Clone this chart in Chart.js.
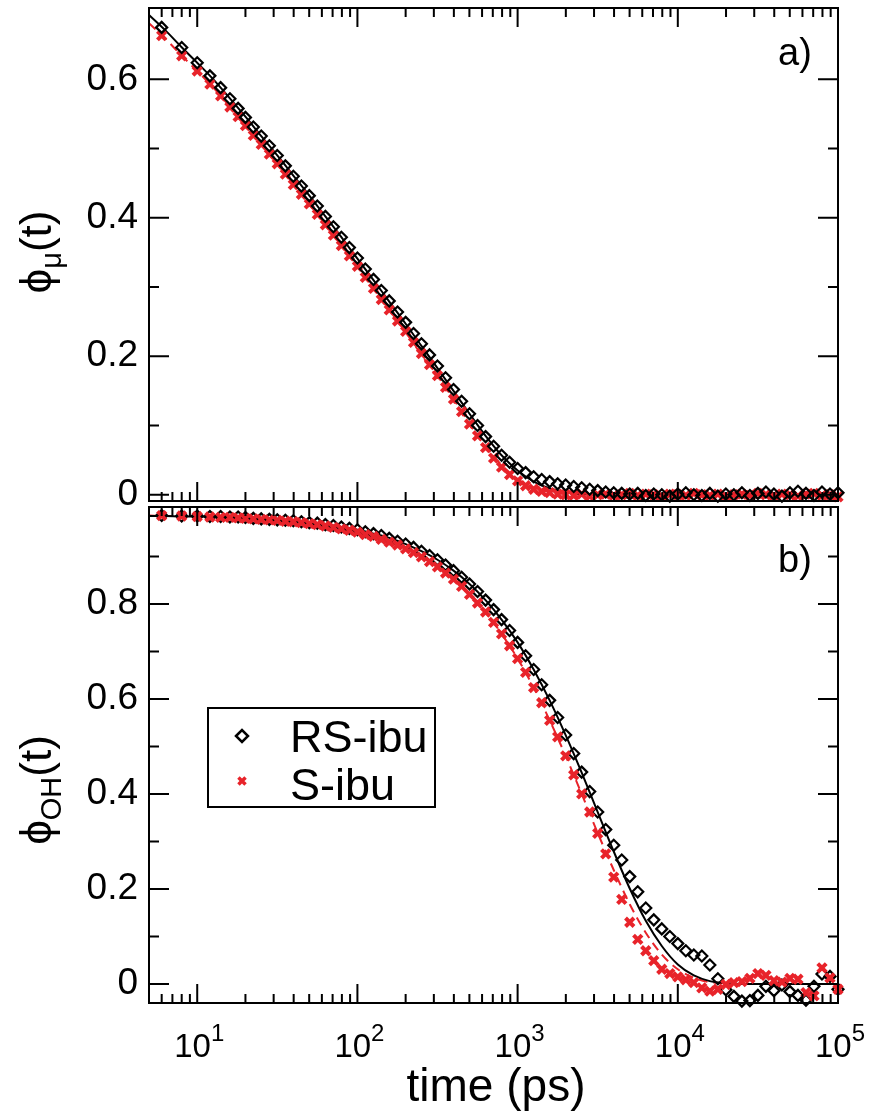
<!DOCTYPE html>
<html>
<head>
<meta charset="utf-8">
<script src="https://cdn.jsdelivr.net/npm/chart.js@4.4.1/dist/chart.umd.min.js"></script>
<style>
  html, body { margin: 0; padding: 0; background: #fff; }
  body { width: 869px; height: 1113px; position: relative; overflow: hidden; }
  .panel { position: absolute; left: 0; width: 869px; }
  #wrapA { top: -40px; height: 600px; }
  #wrapB { top: 460px; height: 653px; }
</style>
</head>
<body>
<div class="panel" id="wrapA"><canvas id="chartA"></canvas></div>
<div class="panel" id="wrapB"><canvas id="chartB"></canvas></div>
<script>
// sampling times of the simulation points (ps)
var times = [6,8,10,12,14,16,18,20,22.4,25.1,28.2,31.6,35.5,39.8,44.7,50.1,56.2,63.1,70.8,79.4,89.1,
  100,112,126,141,158,178,200,224,251,282,316,355,398,447,501,562,631,708,794,891,
  1000,1122,1259,1413,1585,1778,1995,2239,2512,2818,3162,3548,3981,4467,5012,5623,6310,7079,7943,8913,
  10000,11220,12589,14125,15849,17783,19953,22387,25119,28184,31623,35481,39811,44668,50119,56234,63096,70795,79433,89125,
  100000];

// panel a) phi_mu(t)
var muRS = [0.675,0.646,0.624,0.605,0.588,0.572,0.558,0.545,
  0.531,0.518,0.504,0.490,0.475,0.460,0.446,0.432,0.417,0.402,0.387,0.372,0.357,
  0.342,0.326,0.311,0.295,0.280,0.264,0.249,0.233,0.218,0.202,0.186,0.169,0.152,0.135,0.117,0.100,0.084,0.070,0.057,0.047,
  0.038,0.032,0.026,0.022,0.019,0.016,0.014,0.012,0.010,0.008,0.006,0.004,0.003,0.002,0.001,0.002,-0.001,0.001,0.000,-0.002,
  0.001,0.003,0.000,-0.001,0.002,-0.002,0.001,0.000,0.003,-0.001,0.002,0.004,0.001,-0.002,0.003,0.005,0.002,-0.001,0.004,0.001,
  0.003];
var muS = [0.663,0.634,0.612,0.593,0.576,0.560,0.546,0.533,
  0.519,0.506,0.492,0.478,0.463,0.448,0.434,0.420,0.405,0.390,0.375,0.360,0.345,
  0.330,0.314,0.298,0.282,0.267,0.251,0.236,0.220,0.204,0.188,0.172,0.155,0.138,0.120,0.102,0.085,0.068,0.053,0.040,0.029,
  0.020,0.013,0.008,0.005,0.003,0.001,0.000,-0.001,0.001,-0.002,0.000,0.001,-0.001,0.000,0.002,-0.001,0.001,0.000,-0.002,0.001,
  0.000,-0.001,0.002,0.000,-0.001,0.001,-0.002,0.000,0.001,-0.001,0.002,0.000,-0.001,0.001,0.000,-0.002,0.001,0.002,-0.001,0.000,
  -0.003];

// panel b) phi_OH(t)
var ohRS = [0.986,0.985,0.985,0.984,0.984,0.983,0.983,0.982,
  0.980,0.979,0.978,0.977,0.976,0.975,0.973,0.971,0.970,0.967,0.965,0.962,0.959,
  0.956,0.952,0.948,0.944,0.938,0.932,0.926,0.919,0.911,0.902,0.893,0.882,0.870,0.856,0.842,0.826,0.808,0.788,0.767,0.744,
  0.719,0.691,0.662,0.630,0.597,0.561,0.524,0.485,0.446,0.405,0.362,0.325,0.292,0.261,0.226,0.194,0.160,0.135,0.116,0.100,
  0.085,0.070,0.061,0.059,0.040,0.011,-0.012,-0.026,-0.036,-0.035,-0.024,-0.005,-0.014,-0.002,-0.016,-0.024,-0.034,-0.005,0.021,0.016,
  -0.011];
var ohS = [0.986,0.985,0.984,0.983,0.982,0.982,0.981,0.980,
  0.979,0.978,0.977,0.976,0.974,0.973,0.971,0.969,0.967,0.964,0.961,0.958,0.955,
  0.951,0.946,0.942,0.936,0.930,0.924,0.916,0.908,0.899,0.889,0.878,0.865,0.852,0.837,0.820,0.802,0.783,0.761,0.737,0.712,
  0.685,0.656,0.624,0.592,0.555,0.520,0.480,0.440,0.400,0.362,0.317,0.274,0.225,0.178,0.130,0.094,0.070,0.049,0.031,0.022,
  0.015,0.009,0.003,-0.008,-0.015,-0.011,-0.001,0.003,0.005,0.012,0.022,0.018,0.007,0.004,0.012,0.010,-0.018,-0.025,0.034,0.013,
  -0.011];

// fitted curves
var fitTimes = [5,6.31,7.94,10,12.6,15.8,20,25.1,31.6,39.8,50.1,63.1,79.4,100,126,158,200,251,316,398,
  501,631,794,1000,1259,1585,1995,2512,3162,3981,5012,6310,7943,10000,12589,15849,19953,25119,31623,39811,
  50119,63096,79433,100000];
var muFitRS = [0.693,0.671,0.647,0.624,0.600,0.574,0.546,0.518,0.490,0.461,
  0.432,0.402,0.372,0.341,0.310,0.279,0.247,0.215,0.183,0.150,
  0.117,0.085,0.057,0.035,0.019,0.009,0.004,0.001,0,0,
  0,0,0,0,0,0,0,0,0,0,0,0,0,0];
var muFitS = [0.681,0.659,0.635,0.612,0.588,0.562,0.534,0.506,0.478,0.449,
  0.420,0.390,0.360,0.329,0.298,0.267,0.235,0.202,0.169,0.135,
  0.101,0.070,0.043,0.023,0.010,0.004,0.001,0,0,0,
  0,0,0,0,0,0,0,0,0,0,0,0,0,0];
var ohFitRS = [0.985,0.985,0.984,0.984,0.983,0.982,0.981,0.979,0.977,0.975,
  0.971,0.967,0.962,0.956,0.948,0.939,0.926,0.911,0.893,0.870,
  0.842,0.808,0.767,0.719,0.662,0.597,0.524,0.445,0.362,0.279,
  0.201,0.133,0.080,0.041,0.018,0.006,0.002,0,0,0,0,0,0,0];
var ohFitS = [0.986,0.985,0.985,0.984,0.983,0.981,0.980,0.978,0.976,0.973,
  0.969,0.964,0.958,0.951,0.942,0.930,0.916,0.899,0.878,0.852,
  0.820,0.783,0.737,0.685,0.624,0.555,0.480,0.400,0.318,0.240,
  0.168,0.108,0.062,0.031,0.013,0.004,0.001,0,0,0,0,0,0,0];

var seriesNames = ['RS-ibu', 'S-ibu'];
var xTickValues = [10, 100, 1000, 10000, 100000];
var xTickExps = ['1', '2', '3', '4', '5'];
var yTicksA = [0, 0.2, 0.4, 0.6];
var yMinorA = [0.1, 0.3, 0.5];
var yTicksB = [0, 0.2, 0.4, 0.6, 0.8];
var yMinorB = [0.1, 0.3, 0.5, 0.7, 0.9];

var RED = '#e8232a';
var FONT = '"Liberation Sans", Arial, Helvetica, sans-serif';
Chart.defaults.font.family = FONT;
Chart.defaults.color = '#000';

function pts(xs, ys) {
  return xs.map(function(x, i) { return { x: x, y: ys[i] }; });
}
function font(size) { return size + 'px ' + FONT; }

// draw text pieces in a row, with sub/superscripts; (cx, cy) = centre of baseline
function drawRich(ctx, parts, cx, cy, rotated) {
  ctx.save();
  ctx.translate(cx, cy);
  if (rotated) ctx.rotate(-Math.PI / 2);
  var w = 0;
  parts.forEach(function(p) { ctx.font = font(p.s); p.w = ctx.measureText(p.t).width; w += p.w; });
  var x = -w / 2;
  ctx.textAlign = 'left';
  ctx.textBaseline = 'alphabetic';
  ctx.fillStyle = '#000';
  parts.forEach(function(p) { ctx.font = font(p.s); ctx.fillText(p.t, x, p.dy || 0); x += p.w; });
  ctx.restore();
}

var panelDeco = {
  id: 'panelDeco',
  afterDraw: function(chart, args, o) {
    var ctx = chart.ctx, a = chart.chartArea;
    var xs = chart.scales.x, ys = chart.scales.y;
    var off = o.offsetTop;
    ctx.save();
    ctx.strokeStyle = '#000';
    ctx.lineWidth = 2;
    ctx.strokeRect(a.left, a.top, a.right - a.left, a.bottom - a.top);
    ctx.beginPath();
    for (var e = 0; e <= 5; e++) {
      for (var m = 1; m <= 9; m++) {
        var v = m * Math.pow(10, e);
        if (v < xs.min || v > xs.max) continue;
        var px = xs.getPixelForValue(v);
        var len = m === 1 ? 19 : 9;
        ctx.moveTo(px, a.top); ctx.lineTo(px, a.top + len);
        ctx.moveTo(px, a.bottom); ctx.lineTo(px, a.bottom - len);
      }
    }
    function yt(list, len) {
      list.forEach(function(v) {
        var py = ys.getPixelForValue(v);
        ctx.moveTo(a.left, py); ctx.lineTo(a.left + len, py);
        ctx.moveTo(a.right, py); ctx.lineTo(a.right - len, py);
      });
    }
    yt(o.yMajor, 20);
    yt(o.yMinor, 10);
    ctx.stroke();

    // panel tag
    ctx.fillStyle = '#000';
    ctx.font = font(38);
    ctx.textAlign = 'left';
    ctx.textBaseline = 'alphabetic';
    ctx.fillText(o.tag, 778, o.tagY - off);

    // y title
    drawRich(ctx, [{ t: 'ϕ', s: 44 }, { t: o.sub, s: 29, dy: 10 }, { t: '(t)', s: 44 }], 51, o.titleY - off, true);

    if (o.bottom) {
      // x tick labels 10^n
      xTickValues.forEach(function(v, i) {
        drawRich(ctx, [{ t: '10', s: 33 }, { t: xTickExps[i], s: 24, dy: -16 }], xs.getPixelForValue(v) + 2, 1057 - off, false);
      });
      drawRich(ctx, [{ t: 'time (ps)', s: 46 }], 496, 1101 - off, false);

      // legend
      var lt = 708 - off;
      ctx.lineWidth = 2;
      ctx.strokeStyle = '#000';
      ctx.strokeRect(208, lt, 227, 99);
      ctx.fillStyle = 'rgba(0,0,0,0)';
      ctx.lineWidth = 2.5;
      Chart.helpers.drawPoint(ctx, { pointStyle: 'rectRot', radius: 6, borderWidth: 2.5, rotation: 0 }, 242, 736 - off);
      ctx.strokeStyle = RED;
      ctx.lineWidth = 3.5;
      Chart.helpers.drawPoint(ctx, { pointStyle: 'crossRot', radius: 5, borderWidth: 3.5, rotation: 0 }, 242, 781 - off);
      ctx.fillStyle = '#000';
      ctx.font = font(45);
      ctx.textAlign = 'left';
      ctx.fillText(seriesNames[0], 290, 752 - off);
      ctx.fillText(seriesNames[1], 290, 800 - off);
    }
    ctx.restore();
  }
};

function markerSets(rs, s, redOnTop) {
  var black = {
    label: seriesNames[0], data: pts(times, rs), showLine: false, clip: false,
    pointStyle: 'rectRot', pointRadius: 5.5, pointBorderWidth: 2.2,
    pointBorderColor: '#000', pointBackgroundColor: 'rgba(0,0,0,0)'
  };
  var red = {
    label: seriesNames[1], data: pts(times, s), showLine: false, clip: false,
    pointStyle: 'crossRot', pointRadius: 6, pointBorderWidth: 4,
    pointBorderColor: RED, pointBackgroundColor: RED
  };
  return redOnTop ? [red, black] : [black, red];
}
function fitSets(rs, s) {
  return [
    { label: 'fit ' + seriesNames[0], data: pts(fitTimes, rs), showLine: true, pointRadius: 0,
      borderColor: '#000', borderWidth: 2, cubicInterpolationMode: 'monotone', clip: false },
    { label: 'fit ' + seriesNames[1], data: pts(fitTimes, s), showLine: true, pointRadius: 0,
      borderColor: RED, borderWidth: 2, borderDash: [9, 6], cubicInterpolationMode: 'monotone', clip: false }
  ];
}

function panelOptions(pad, ymin, ymax, ticks, deco) {
  return {
    responsive: true,
    maintainAspectRatio: false,
    animation: false,
    layout: { padding: pad },
    plugins: { legend: { display: false }, tooltip: { enabled: false }, panelDeco: deco },
    scales: {
      x: { type: 'logarithmic', min: 5, max: 100000, display: false },
      y: {
        type: 'linear', min: ymin, max: ymax,
        grid: { display: false, drawTicks: false },
        border: { display: false },
        afterFit: function(s) { s.width = 149; },
        afterBuildTicks: function(s) { s.ticks = ticks.map(function(v) { return { value: v }; }); },
        ticks: {
          color: '#000', padding: 11, font: { size: 37 },
          callback: function(v) { return v === 0 ? '0' : v.toFixed(1); }
        }
      }
    }
  };
}

new Chart(document.getElementById('chartA'), {
  type: 'scatter',
  data: { datasets: markerSets(muRS, muS, false).concat(fitSets(muFitRS, muFitS)) },
  options: panelOptions({ left: 0, right: 31, top: 48, bottom: 59 }, -0.009, 0.703, yTicksA,
    { offsetTop: -40, yMajor: yTicksA, yMinor: yMinorA, tag: 'a)', tagY: 65, sub: 'μ', titleY: 252, bottom: false }),
  plugins: [panelDeco]
});

new Chart(document.getElementById('chartB'), {
  type: 'scatter',
  data: { datasets: markerSets(ohRS, ohS, true).concat(fitSets(ohFitRS, ohFitS)) },
  options: panelOptions({ left: 0, right: 31, top: 47, bottom: 110 }, -0.04, 1.004, yTicksB,
    { offsetTop: 460, yMajor: yTicksB, yMinor: yMinorB, tag: 'b)', tagY: 572, sub: 'OH', titleY: 790, bottom: true }),
  plugins: [panelDeco]
});
</script>
</body>
</html>
